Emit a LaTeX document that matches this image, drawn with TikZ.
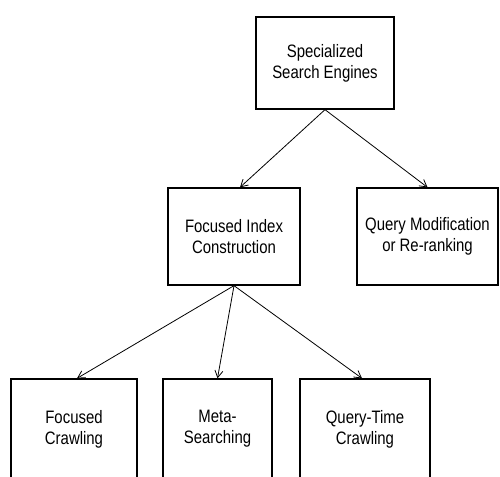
\documentclass[tikz,border=0pt]{standalone}
\usepackage{fontspec}
\setmainfont{Liberation Sans}[FakeStretch=0.83]
\usetikzlibrary{arrows.meta}
\begin{document}
\begin{tikzpicture}[x=1pt,y=-1pt,
  box/.style={draw=black, line width=1.3pt, rectangle, align=center,
    font=\fontsize{18}{21}\selectfont, inner sep=0pt},
  link/.style={line width=0.8pt, -{Straight Barb[length=7pt,width=8pt,line width=0.8pt]}}]
  \useasboundingbox (0,0) rectangle (500,476);
  \clip (0,0) rectangle (500,476);
  % top level
  \node[box, minimum width=138pt, minimum height=92pt] (sse) at (325,63) {Specialized\\Search Engines};
  % second level
  \node[box, minimum width=132pt, minimum height=97pt] (fic) at (234,236.5) {Focused Index\\Construction};
  \node[box, minimum width=141pt, minimum height=97pt] (qmr) at (427.5,236.5) {Query Modification\\or Re-ranking};
  % third level (boxes run past the lower edge)
  \node[box, minimum width=126pt, minimum height=100pt] (fc) at (74,429) {Focused\\Crawling};
  \node[box, minimum width=109pt, minimum height=100pt] (ms) at (217.5,429) {Meta-\\Searching};
  \node[box, minimum width=130pt, minimum height=100pt] (qtc) at (365,429) {Query-Time\\Crawling};
  % connectors
  \draw[link] (sse.south) -- ([xshift=6pt]fic.north);
  \draw[link] (sse.south) -- (qmr.north);
  \draw[link] (fic.south) -- ([xshift=3pt]fc.north);
  \draw[link] (fic.south) -- (ms.north);
  \draw[link] (fic.south) -- ([xshift=-3pt]qtc.north);
\end{tikzpicture}
\end{document}
